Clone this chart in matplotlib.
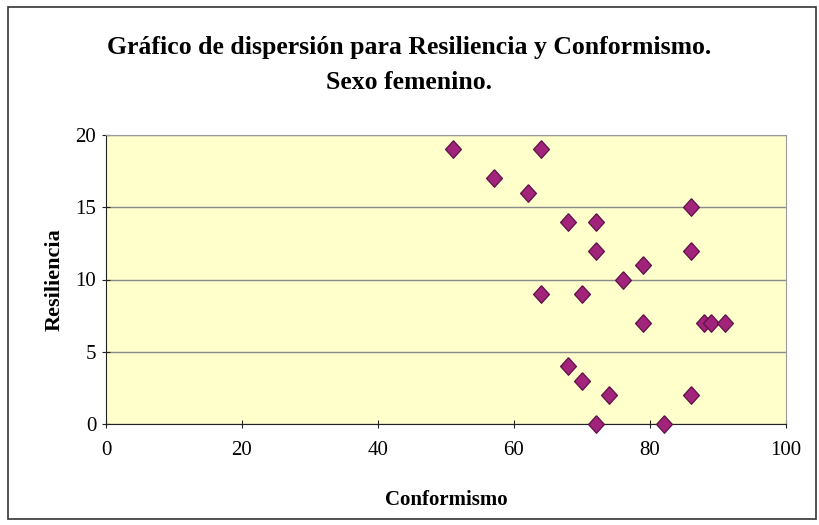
import matplotlib
matplotlib.use("Agg")
import matplotlib.pyplot as plt
from matplotlib.patches import Rectangle

conformismo = [51, 57, 62, 64, 68, 72, 72, 64, 70, 76, 79, 79, 86, 86, 88, 89, 91, 68, 70, 74, 72, 82, 86]
resiliencia = [19, 17, 16, 19, 14, 14, 12, 9, 9, 10, 11, 7, 15, 12, 7, 7, 7, 4, 3, 2, 0, 0, 2]
x_ticks = [0, 20, 40, 60, 80, 100]
y_ticks = [0, 5, 10, 15, 20]

title = "Gráfico de dispersión para Resiliencia y Conformismo.\nSexo femenino."
xlabel = "Conformismo"
ylabel = "Resiliencia"

serif = ["Liberation Serif", "DejaVu Serif"]

fig = plt.figure(figsize=(8.19, 5.25), dpi=100)
fig.patch.set_facecolor("white")
fig.patches.append(Rectangle((8/819, 6/525), 808/819, 512/525, transform=fig.transFigure,
                             fill=False, edgecolor="#333333", linewidth=1.2))

ax = fig.add_axes([106/819, 1-424/525, (786-106)/819, (424-135)/525])
ax.set_facecolor("#FFFFCC")
ax.set_xlim(0, 100)
ax.set_ylim(0, 20)
ax.set_xticks(x_ticks)
ax.set_yticks(y_ticks)
ax.yaxis.grid(True, color="#8a8a8a", linewidth=1.0)
ax.set_axisbelow(True)

diamond = [(0, 1.05), (0.95, 0), (0, -1.05), (-0.95, 0), (0, 1.05)]
ax.scatter(conformismo, resiliencia, marker=diamond, s=160, color="#A2237A",
           edgecolors="#5E1049", linewidths=0.9, zorder=3, clip_on=False)

for s in ["top", "right"]:
    ax.spines[s].set_color("#999999")
for s in ["left", "bottom"]:
    ax.spines[s].set_color("#222222")
ax.tick_params(direction="inout", length=6, color="#222222")
ax.tick_params(axis="x", pad=9)
ax.tick_params(axis="y", pad=4)
for lab in ax.get_xticklabels() + ax.get_yticklabels():
    lab.set_family(serif)
    lab.set_fontsize(15)

ax.set_xlabel(xlabel, family=serif, fontweight="bold", fontsize=15, labelpad=22)
ax.set_ylabel(ylabel, family=serif, fontweight="bold", fontsize=16, labelpad=8)

fig.text(0.5, 1-65/525, title, ha="center", va="center", family=serif,
         fontweight="bold", fontsize=18.5, linespacing=1.7)

fig.savefig("out.png", dpi=100)
